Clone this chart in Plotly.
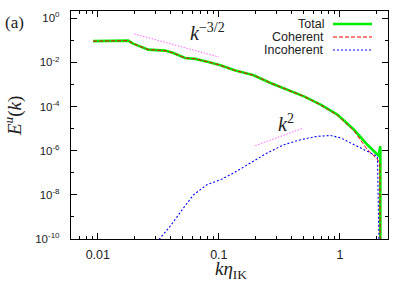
import plotly.graph_objects as go
import numpy as np

# ---- data ----
k_total = [0.00914, 0.0178, 0.0196, 0.0261, 0.0359, 0.0421, 0.0526, 0.0637, 0.082,
           0.103, 0.137, 0.194, 0.267, 0.367, 0.505, 0.693, 0.953, 1.31, 1.69,
           2.05, 2.09, 2.16, 2.165]
E_total = [0.092, 0.097, 0.071, 0.038, 0.0343, 0.0269, 0.0158, 0.0145, 0.0105,
           0.0074, 0.00427, 0.00263, 0.00117, 5.9e-4, 2.9e-4, 1.23e-4, 4.3e-5, 8.9e-6, 1.86e-6,
           6.6e-7, 6.1e-7, 1.6e-6, 1e-14]

k_coh = [0.00914, 0.0178, 0.0196, 0.0261, 0.0359, 0.0421, 0.0526, 0.0637, 0.082,
         0.103, 0.137, 0.194, 0.267, 0.367, 0.505, 0.693, 0.953, 1.31, 1.69,
         2.0, 2.14, 2.165]
E_coh = [0.092, 0.097, 0.071, 0.038, 0.0343, 0.0269, 0.0158, 0.0145, 0.0105,
         0.0074, 0.00427, 0.00263, 0.00117, 5.9e-4, 2.9e-4, 1.2e-4, 4.1e-5, 8.0e-6, 1.1e-6,
         4.7e-7, 2.75e-7, 1e-14]

k_inc = [0.029, 0.0327, 0.0395, 0.0509, 0.0617, 0.0798, 0.1028, 0.1327, 0.1824, 0.2506,
         0.3443, 0.4732, 0.6516, 0.8395, 1.016, 1.23, 1.585, 2.046, 2.165]
E_inc = [5e-11, 1.1e-10, 3.7e-10, 2.5e-9, 1e-8, 2.9e-8, 4.8e-8, 9.8e-8, 2.75e-7, 7.9e-7,
         1.86e-6, 3.16e-6, 4.47e-6, 4.9e-6, 3.8e-6, 2.24e-6, 1.12e-6, 5.5e-7, 1e-14]

# reference power laws (endpoints)
k_m32 = [0.02, 0.1]
E_m32 = [0.196, 0.196 * (0.1 / 0.02) ** -1.5]
k_p2 = [0.2, 0.5]
E_p2 = [1.7e-6, 1.7e-6 * (0.5 / 0.2) ** 2]

x_major = [0.01, 0.1, 1]
x_major_text = ["0.01", "0.1", "1"]
x_minor = [m * 10.0 ** e for e in (-3, -2, -1, 0) for m in range(2, 10)]
y_major_exp = [0, -2, -4, -6, -8, -10]
y_minor_exp = [-1, -3, -5, -7, -9]

legend_names = ["Total", "Coherent", "Incoherent"]

# ---- figure ----
W, H = 399, 287
L, R, T, B = 71, 11, 11, 48
PW, PH = W - L - R, H - T - B


def px(x):
    return (x - L) / PW


def py(y):
    return 1 - (y - T) / PH


fig = go.Figure()
fig.add_trace(go.Scatter(x=k_total, y=E_total, mode="lines",
                         line=dict(color="#00ee00", width=2.6), name=legend_names[0]))
fig.add_trace(go.Scatter(x=k_coh, y=E_coh, mode="lines",
                         line=dict(color="#ff0000", width=1, dash="4px,2px"), name=legend_names[1]))
fig.add_trace(go.Scatter(x=k_inc, y=E_inc, mode="lines",
                         line=dict(color="#0000ff", width=1.1, dash="2px,2px"), name=legend_names[2]))
fig.add_trace(go.Scatter(x=k_m32, y=E_m32, mode="lines",
                         line=dict(color="#ff66ff", width=1, dash="1.5px,1.5px"), showlegend=False))
fig.add_trace(go.Scatter(x=k_p2, y=E_p2, mode="lines",
                         line=dict(color="#ff66ff", width=1, dash="1.5px,1.5px"), showlegend=False))

axis_common = dict(showgrid=False, zeroline=False, showline=True, linecolor="black",
                   linewidth=1.2, ticks="inside", ticklen=6, tickcolor="black",
                   mirror="allticks", automargin=False)

fig.update_xaxes(type="log", range=[np.log10(0.006), np.log10(2.5)],
                 tickvals=x_major, ticktext=x_major_text,
                 tickfont=dict(family="Liberation Sans, Arial", size=12.5, color="#222"),
                 minor=dict(tickvals=x_minor, ticklen=3, ticks="inside", tickcolor="black"),
                 ticklabelstandoff=4,
                 **axis_common)
fig.update_yaxes(type="log", range=[-10, 0.33],
                 tickvals=[10.0 ** e for e in y_major_exp],
                 ticktext=["10<sup>%d</sup>" % e for e in y_major_exp],
                 tickfont=dict(family="Liberation Sans, Arial", size=11.5, color="#222"),
                 minor=dict(tickvals=[10.0 ** e for e in y_minor_exp], ticklen=3,
                            ticks="inside", tickcolor="black"),
                 ticklabelstandoff=8,
                 **axis_common)

serif = "Liberation Serif, DejaVu Serif, serif"
ann = [
    dict(x=px(15), y=py(23), text="(a)", font=dict(family=serif, size=17, color="#222")),
    dict(x=px(13), y=py(116), text="<i>E</i><sup><i>u</i></sup>(<i>k</i>)", textangle=-90,
         font=dict(family=serif, size=19, color="#222")),
    dict(x=px(231), y=py(270), text="<i>kη</i><sub>IK</sub>",
         font=dict(family=serif, size=19, color="#222")),
    dict(x=px(207), y=py(32), text="<i>k</i><sup>−3/2</sup>",
         font=dict(family=serif, size=20, color="#222")),
    dict(x=px(286), y=py(123), text="<i>k</i><sup>2</sup>",
         font=dict(family=serif, size=20, color="#222")),
]
for a in ann:
    a.update(xref="paper", yref="paper", showarrow=False, xanchor="center", yanchor="middle")

# legend (text left, sample right)
leg_y = [24, 37, 50]
leg_style = [dict(color="#00ee00", width=2.6), dict(color="#ff0000", width=1, dash="4px,2px"),
             dict(color="#0000ff", width=1.1, dash="2px,2px")]
shapes = []
for name, yy, st in zip(legend_names, leg_y, leg_style):
    ann.append(dict(xref="paper", yref="paper", x=px(326), y=py(yy), text=name, showarrow=False,
                    xanchor="right", yanchor="middle",
                    font=dict(family="Liberation Sans, Arial", size=12.5, color="#222")))
    shapes.append(dict(type="line", xref="paper", yref="paper", x0=px(333), x1=px(372),
                       y0=py(yy), y1=py(yy), line=st))

fig.update_layout(width=W, height=H, margin=dict(l=L, r=R, t=T, b=B),
                  paper_bgcolor="white", plot_bgcolor="white", showlegend=False,
                  annotations=ann, shapes=shapes)

fig.write_html("out.html", config={"displayModeBar": False},
               post_script="document.body.style.margin='0px';")
